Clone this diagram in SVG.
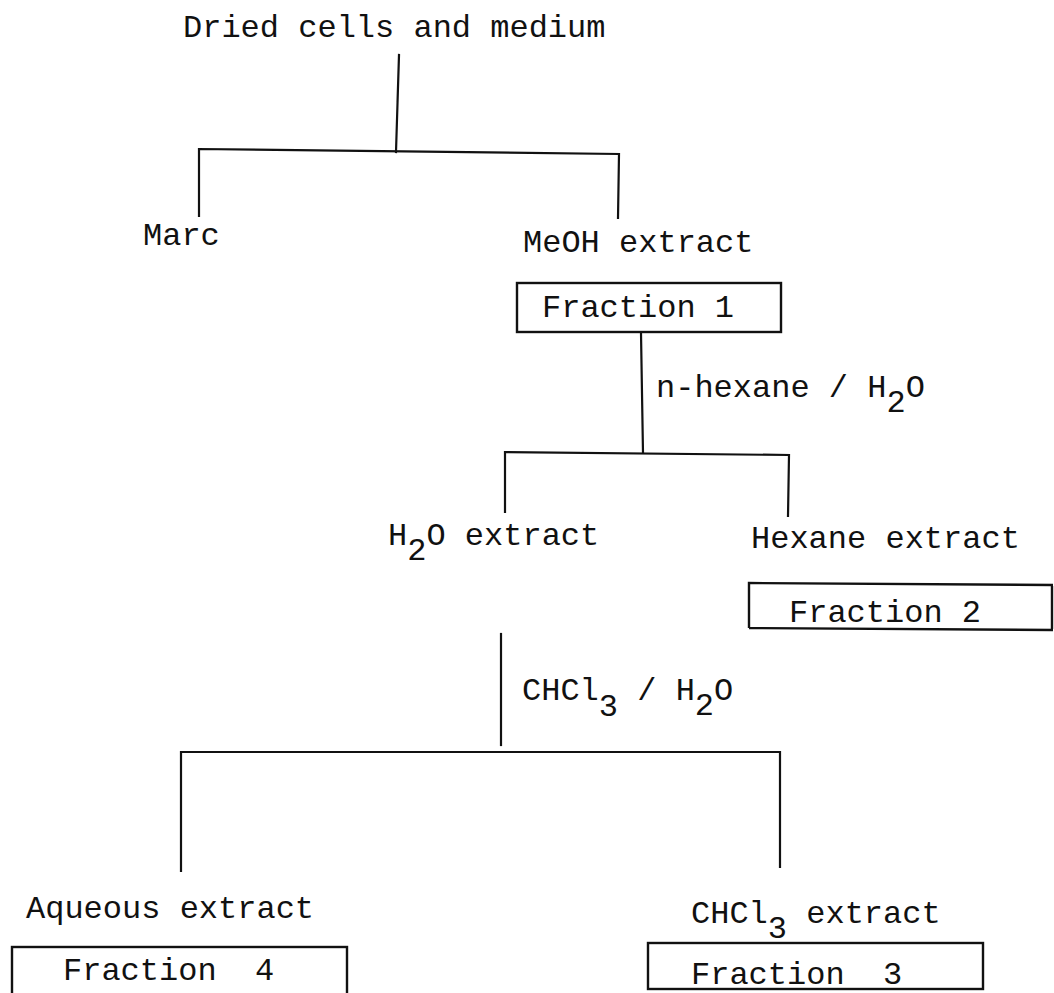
<svg xmlns="http://www.w3.org/2000/svg" width="1054" height="993" viewBox="0 0 1054 993">
<style>
.t{font-family:"Liberation Mono","DejaVu Sans Mono",monospace;font-size:32px;fill:#111;white-space:pre}
.c{stroke:#111;stroke-width:2.2;fill:none;stroke-linecap:square}
.b{stroke:#111;stroke-width:2.4;fill:none}
</style>
<rect width="1054" height="993" fill="#fff"/>
<g id="connectors">
<path class="c" d="M399 55 L396 152"/>
<path class="c" d="M199 216 L199 149 L619 154 L618 218"/>
<path class="c" d="M641 333 L643 453"/>
<path class="c" d="M505 512 L505 452 L789 455 L788 516"/>
<path class="c" d="M501 634 L501 745"/>
<path class="c" d="M181 871 L181 752 L780 752 L780 867"/>
</g>
<g id="n-dried"><text class="t" x="183" y="37">Dried cells and medium</text></g>
<g id="n-marc"><text class="t" x="143" y="245">Marc</text></g>
<g id="n-meoh"><text class="t" x="523" y="252">MeOH extract</text></g>
<g id="n-f1"><rect class="b" x="517" y="283" width="264" height="49"/><text class="t" x="542" y="317">Fraction 1</text></g>
<g id="l-hexane"><text class="t" x="656" y="397">n-hexane / H<tspan dy="15">2</tspan><tspan dy="-15">O</tspan></text></g>
<g id="n-h2o"><text class="t" x="388" y="545">H<tspan dy="15">2</tspan><tspan dy="-15">O extract</tspan></text></g>
<g id="n-hex"><text class="t" x="751" y="548">Hexane extract</text></g>
<g id="n-f2"><path class="b" d="M749 628 L749 583 L1053 585 M749 628 L1053 630 M1052 586 L1052 629"/><text class="t" x="789" y="622">Fraction 2</text></g>
<g id="l-chcl3"><text class="t" x="522" y="700">CHCl<tspan dy="16">3</tspan><tspan dy="-16"> / H</tspan><tspan dy="15">2</tspan><tspan dy="-15">O</tspan></text></g>
<g id="n-aq"><text class="t" x="26" y="918">Aqueous extract</text></g>
<g id="n-chcl3"><text class="t" x="691" y="923">CHCl<tspan dy="15">3</tspan><tspan dy="-15"> extract</tspan></text></g>
<g id="n-f4"><rect class="b" x="12" y="947" width="335" height="52"/><text class="t" x="63" y="980" xml:space="preserve">Fraction  4</text></g>
<g id="n-f3"><rect class="b" x="648" y="943" width="335" height="46"/><text class="t" x="691" y="984" xml:space="preserve">Fraction  3</text></g>
</svg>
